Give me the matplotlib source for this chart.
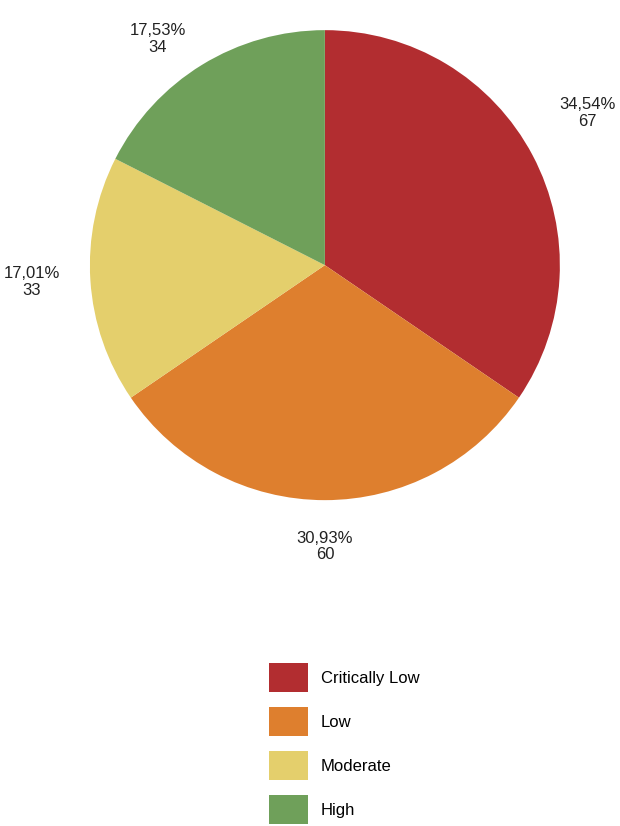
import matplotlib
matplotlib.use("Agg")
import matplotlib.pyplot as plt
import numpy as np
from matplotlib.patches import Patch

categories = ["Critically Low", "Low", "Moderate", "High"]
counts = [67, 60, 33, 34]
percents = ["34,54%", "30,93%", "17,01%", "17,53%"]
colors = ["#b22d30", "#de7f2e", "#e4cf6c", "#6fa05a"]

plt.rcParams['font.family'] = ['Liberation Sans', 'DejaVu Sans']
fig = plt.figure(figsize=(6.2, 8.26), dpi=100)
ax = fig.add_axes([0.524-0.379, 0.679-0.2845, 0.758, 0.569])
wedges, _ = ax.pie(counts, colors=colors, startangle=90, counterclock=False)
ax.set_aspect('auto')
ax.set_xlim(-1, 1); ax.set_ylim(-1, 1)
total = sum(counts)
cum = 0
for c, p, w in zip(counts, percents, wedges):
    mid = 90 - (cum + c / 2) / total * 360
    cum += c
    a = np.deg2rad(mid)
    x, y = 1.13 * np.cos(a), 1.13 * np.sin(a)
    ha = 'left' if x > 0.2 else ('right' if x < -0.2 else 'center')
    if abs(y) < 0.3 or abs(x) > 0.5:
        va = 'center'
    else:
        va = 'bottom' if y > 0 else 'top'
    ax.text(x, y + (0.12 if mid > 0 else 0), f"{p}\n{c}", ha=ha, va=va, fontsize=12,
            color='#222222', linespacing=1.15, multialignment='center', clip_on=False)

handles = [Patch(facecolor=col, edgecolor='none') for col in colors]
fig.legend(handles, categories, loc='upper left', bbox_to_anchor=(0.41, 0.215),
           frameon=False, fontsize=12, handlelength=2.3, handleheight=2.3,
           labelspacing=0.9, handletextpad=0.8)
fig.savefig("out.png", dpi=100)
